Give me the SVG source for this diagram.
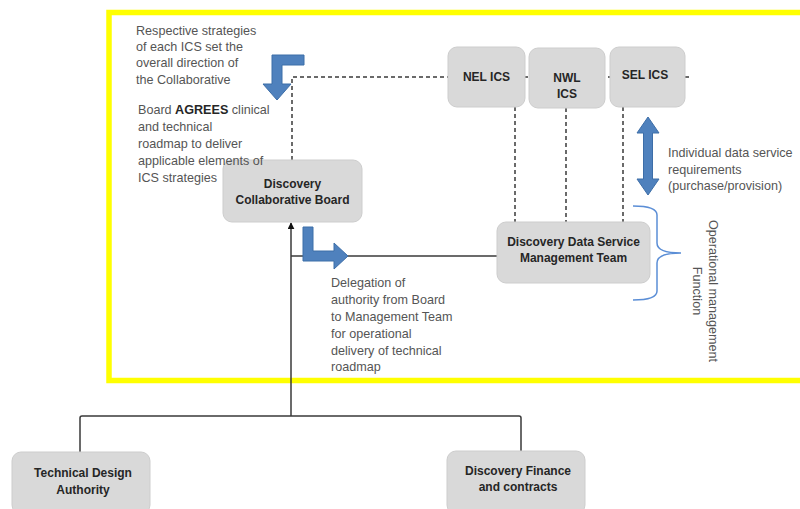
<svg xmlns="http://www.w3.org/2000/svg" width="800" height="509" viewBox="0 0 800 509">
<defs>
<style>
.node rect{fill:#d9d9d9;stroke:#cdcdcd;stroke-width:1}
.node text{font-family:"Liberation Sans",Arial,sans-serif;font-weight:bold;font-size:12px;fill:#262626;text-anchor:middle}
.lbl{font-family:"Liberation Sans",Arial,sans-serif;font-size:12.6px;fill:#555}
.solid{fill:none;stroke:#3a3a3a;stroke-width:1.5}
.dash{fill:none;stroke:#3a3a3a;stroke-width:1.5;stroke-dasharray:4 3}
.blue{fill:#4f81bd;stroke:#3d6ea8;stroke-width:1}
</style>
<marker id="ah" viewBox="0 0 10 10" refX="9" refY="5" markerWidth="7" markerHeight="7" markerUnits="userSpaceOnUse" orient="auto">
<path d="M0,0 L10,5 L0,10 Z" fill="#111"/>
</marker>
</defs>
<rect width="800" height="509" fill="#fff"/>
<rect x="109" y="12.5" width="720" height="368" fill="none" stroke="#ffff00" stroke-width="5.5"/>

<g id="connectors">
<path class="dash" d="M292,160 L292,77 L690,77"/>
<path class="dash" d="M515,107 L515,222"/>
<path class="dash" d="M566,108 L566,222"/>
<path class="dash" d="M623,107 L623,222"/>
<path class="solid" d="M291,416 L291,223" marker-end="url(#ah)"/>
<path class="solid" d="M291,256 L497,256"/>
<path class="solid" d="M80,452 L80,418 Q80,416 82,416 L519,416 Q521,416 521,418 L521,451"/>
<path class="blue" d="M304,55 L272,55 L272,84 L263,84 L277,100 L291,84 L282,84 L282,65 L304,65 Z"/>
<path class="blue" d="M303,227 L313,227 L313,251 L334,251 L334,243 L348,256 L334,269 L334,261 L303,261 Z"/>
<path class="blue" d="M648,117 L659,133 L652.5,133 L652.5,179 L659,179 L648,195 L637,179 L643.5,179 L643.5,133 L637,133 Z"/>
<path d="M633,206 Q657,206 657,215 L657,243 Q657,253 681,253 Q657,253 657,263 L657,291 Q657,300 633,300" fill="none" stroke="#5b8ed6" stroke-width="1.5"/>
</g>

<g id="board" class="node">
<rect x="223" y="160" width="139" height="62" rx="9"/>
<text x="292.5" y="188">Discovery</text>
<text x="292.5" y="204">Collaborative Board</text>
</g>
<g id="nel" class="node">
<rect x="448" y="47" width="77" height="60" rx="9"/>
<text x="486.5" y="81">NEL ICS</text>
</g>
<g id="nwl" class="node">
<rect x="529" y="48" width="76" height="60" rx="9"/>
<text x="567" y="82">NWL</text>
<text x="567" y="98">ICS</text>
</g>
<g id="sel" class="node">
<rect x="610" y="47" width="75" height="60" rx="9"/>
<text x="645" y="79">SEL ICS</text>
</g>
<g id="mgmt" class="node">
<rect x="497" y="222" width="153" height="61" rx="9"/>
<text x="573.5" y="246">Discovery Data Service</text>
<text x="573.5" y="262">Management Team</text>
</g>
<g id="tda" class="node">
<rect x="12" y="452" width="138" height="62" rx="9"/>
<text x="83" y="477">Technical Design</text>
<text x="83" y="494">Authority</text>
</g>
<g id="finance" class="node">
<rect x="447" y="451" width="138" height="63" rx="9"/>
<text x="518" y="475">Discovery Finance</text>
<text x="518" y="491">and contracts</text>
</g>

<g id="labels">
<text class="lbl" x="136" y="35">Respective strategies</text>
<text class="lbl" x="136" y="51">of each ICS set the</text>
<text class="lbl" x="136" y="67">overall direction of</text>
<text class="lbl" x="136" y="84">the Collaborative</text>
<text class="lbl" x="138" y="114">Board <tspan font-weight="bold" fill="#262626">AGREES</tspan> clinical</text>
<text class="lbl" x="138" y="131">and technical</text>
<text class="lbl" x="138" y="148">roadmap to deliver</text>
<text class="lbl" x="138" y="165">applicable elements of</text>
<text class="lbl" x="138" y="182">ICS strategies</text>
<text class="lbl" x="331" y="287">Delegation of</text>
<text class="lbl" x="331" y="304">authority from Board</text>
<text class="lbl" x="331" y="321">to Management Team</text>
<text class="lbl" x="331" y="338">for operational</text>
<text class="lbl" x="331" y="355">delivery of technical</text>
<text class="lbl" x="331" y="371">roadmap</text>
<text class="lbl" x="668" y="157">Individual data service</text>
<text class="lbl" x="668" y="174">requirements</text>
<text class="lbl" x="668" y="190">(purchase/provision)</text>
<text class="lbl" font-size="13.5px" text-anchor="middle" transform="translate(709,291) rotate(90)">Operational management</text>
<text class="lbl" font-size="13.5px" text-anchor="middle" transform="translate(693,291) rotate(90)">Function</text>
</g>
</svg>
